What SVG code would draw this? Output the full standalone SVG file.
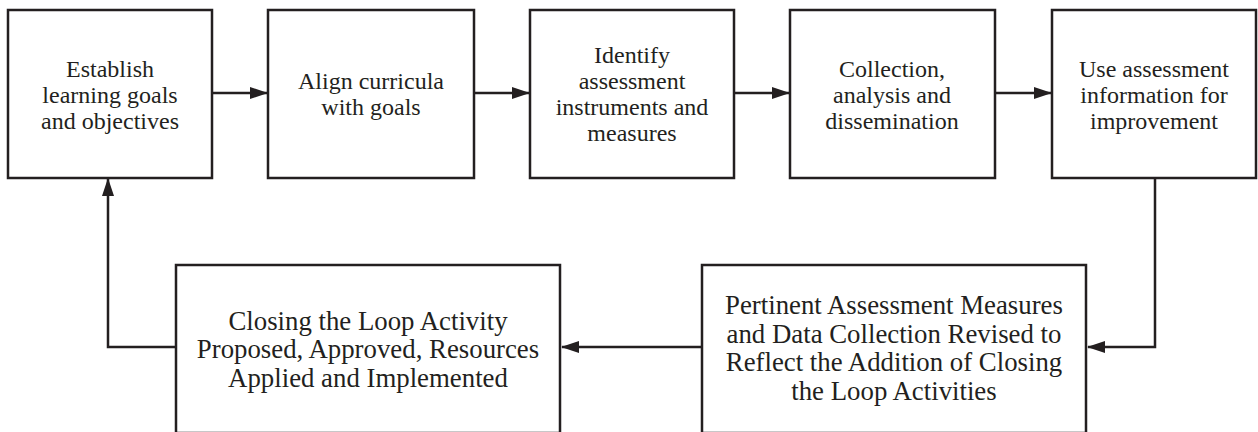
<svg xmlns="http://www.w3.org/2000/svg" width="1258" height="432" viewBox="0 0 1258 432">
<defs>
<style>
.box{fill:#fff;stroke:#231f20;stroke-width:2.5}
.t{font-family:"Liberation Serif","Times New Roman",serif;fill:#231f20;text-anchor:middle}
.t1{font-size:24px}
.t2{font-size:26.8px}
.c{fill:none;stroke:#231f20;stroke-width:2.5}
</style>
<marker id="ah" markerWidth="18" markerHeight="12" refX="17" refY="6" orient="auto" markerUnits="userSpaceOnUse">
<path d="M0,0 L18,6 L0,12 Z" fill="#231f20"/>
</marker>
</defs>
<rect width="1258" height="432" fill="#fff"/>
<g id="connectors">
<line class="c" x1="212" y1="93" x2="267" y2="93" marker-end="url(#ah)"/>
<line class="c" x1="474" y1="93" x2="529" y2="93" marker-end="url(#ah)"/>
<line class="c" x1="734" y1="93" x2="789" y2="93" marker-end="url(#ah)"/>
<line class="c" x1="995" y1="93" x2="1051" y2="93" marker-end="url(#ah)"/>
<polyline class="c" points="1155,178 1155,347 1088,347" marker-end="url(#ah)"/>
<line class="c" x1="702" y1="347" x2="562" y2="347" marker-end="url(#ah)"/>
<polyline class="c" points="176,347 108,347 108,179" marker-end="url(#ah)"/>
</g>
<g id="n1">
<rect class="box" x="8" y="10" width="204" height="168"/>
<text class="t t1" x="110" y="77">Establish</text>
<text class="t t1" x="110" y="103">learning goals</text>
<text class="t t1" x="110" y="129">and objectives</text>
</g>
<g id="n2">
<rect class="box" x="268" y="10" width="206" height="168"/>
<text class="t t1" x="371" y="89">Align curricula</text>
<text class="t t1" x="371" y="115">with goals</text>
</g>
<g id="n3">
<rect class="box" x="530" y="10" width="204" height="168"/>
<text class="t t1" x="632" y="63">Identify</text>
<text class="t t1" x="632" y="89">assessment</text>
<text class="t t1" x="632" y="115">instruments and</text>
<text class="t t1" x="632" y="141">measures</text>
</g>
<g id="n4">
<rect class="box" x="790" y="10" width="205" height="168"/>
<text class="t t1" x="892" y="77">Collection,</text>
<text class="t t1" x="892" y="103">analysis and</text>
<text class="t t1" x="892" y="129">dissemination</text>
</g>
<g id="n5">
<rect class="box" x="1052" y="10" width="204" height="168"/>
<text class="t t1" x="1154" y="77">Use assessment</text>
<text class="t t1" x="1154" y="103">information for</text>
<text class="t t1" x="1154" y="129">improvement</text>
</g>
<g id="n6">
<rect class="box" x="176" y="265" width="384" height="168"/>
<text class="t t2" x="368" y="330">Closing the Loop Activity</text>
<text class="t t2" x="368" y="358">Proposed, Approved, Resources</text>
<text class="t t2" x="368" y="387">Applied and Implemented</text>
</g>
<g id="n7">
<rect class="box" x="702" y="265" width="384" height="168"/>
<text class="t t2" x="894" y="314">Pertinent Assessment Measures</text>
<text class="t t2" x="894" y="343">and Data Collection Revised to</text>
<text class="t t2" x="894" y="371">Reflect the Addition of Closing</text>
<text class="t t2" x="894" y="400">the Loop Activities</text>
</g>
</svg>
